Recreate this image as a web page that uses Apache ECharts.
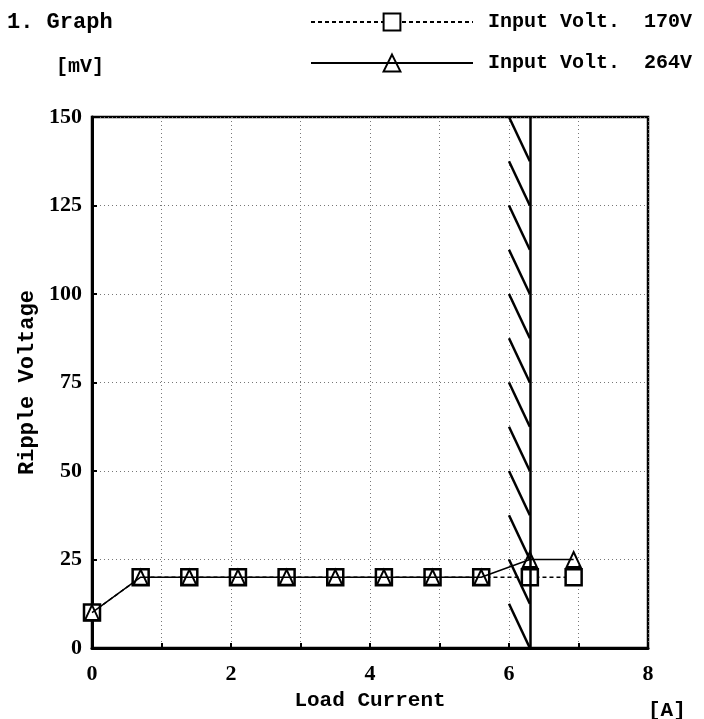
<!DOCTYPE html>
<html>
<head>
<meta charset="utf-8">
<script src="https://cdn.jsdelivr.net/npm/echarts@6/dist/echarts.min.js"></script>
<style>html,body{margin:0;padding:0;background:#fff;}#c{width:704px;height:719px;}</style>
</head>
<body>
<div id="c"></div>
<script>
var loadCurrent = [0, 0.7, 1.4, 2.1, 2.8, 3.5, 4.2, 4.9, 5.6, 6.3, 6.93];
var ripple170 = [10, 20, 20, 20, 20, 20, 20, 20, 20, 20, 20];
var ripple264 = [10, 20, 20, 20, 20, 20, 20, 20, 20, 25, 25];
var ratedCurrent = 6.3;
var hatchStart = 6.0;
var hatchTops = [150, 137.5, 125, 112.5, 100, 87.5, 75, 62.5, 50, 37.5, 25, 12.5];
var hatchStep = 12.5;
var xTickLabels = ['0', '', '2', '', '4', '', '6', '', '8'];

var chart = echarts.init(document.getElementById('c'));
var serifB = 'Liberation Serif';
var mono = 'Liberation Mono';

function pairs(xs, ys) { return xs.map(function (x, i) { return [x, ys[i]]; }); }

chart.setOption({
  animation: false,
  backgroundColor: '#fff',
  grid: { left: 92, right: 56, top: 117, bottom: 71, show: true, borderColor: '#000', borderWidth: 2.5 },
  graphic: [
    { type: 'text', left: 7, top: 11, style: { text: '1. Graph', font: 'bold 22px ' + mono, fill: '#000' } },
    { type: 'text', left: 56, top: 57, style: { text: '[mV]', font: 'bold 20px ' + mono, fill: '#000' } },
    { type: 'text', left: 648, top: 700, style: { text: '[A]', font: 'bold 21px ' + mono, fill: '#000' } }
  ],
  legend: {
    left: 305, top: 7, orient: 'vertical', itemWidth: 162, itemHeight: 21, itemGap: 21,
    textStyle: { fontFamily: mono, fontWeight: 'bold', fontSize: 20, color: '#000', padding: [0, 0, 0, 10] },
    data: ['Input Volt.  170V', 'Input Volt.  264V']
  },
  xAxis: {
    type: 'value', min: 0, max: 8, interval: 1,
    name: 'Load Current', nameLocation: 'middle', nameGap: 41,
    nameTextStyle: { fontFamily: mono, fontSize: 21, fontWeight: 'bold', color: '#000' },
    axisLine: { lineStyle: { color: '#000', width: 3 } },
    axisTick: { inside: true, length: 5, lineStyle: { color: '#000', width: 2 } },
    axisLabel: { margin: 15, fontFamily: serifB, fontWeight: 'bold', fontSize: 22, color: '#000',
      formatter: function (v) { return xTickLabels[Math.round(v)]; } },
    splitLine: { show: true, lineStyle: { color: '#777', type: [1, 3], width: 1 } }
  },
  yAxis: {
    type: 'value', min: 0, max: 150, interval: 25,
    name: 'Ripple Voltage', nameLocation: 'middle', nameGap: 51, nameRotate: 90,
    nameTextStyle: { fontFamily: mono, fontSize: 22, fontWeight: 'bold', color: '#000' },
    axisLine: { lineStyle: { color: '#000', width: 3 } },
    axisTick: { inside: true, length: 5, lineStyle: { color: '#000', width: 2 } },
    axisLabel: { margin: 10, fontFamily: serifB, fontWeight: 'bold', fontSize: 22, color: '#000' },
    splitLine: { show: true, lineStyle: { color: '#777', type: [1, 3], width: 1 } }
  },
  series: [
    {
      type: 'custom', name: 'hatch', silent: true, z: 3,
      data: hatchTops,
      renderItem: function (params, api) {
        var top = api.value(0);
        var p1 = api.coord([hatchStart, top]);
        var p2 = api.coord([ratedCurrent, top - hatchStep]);
        return { type: 'line', shape: { x1: p1[0], y1: p1[1], x2: p2[0], y2: p2[1] },
          style: { stroke: '#000', lineWidth: 2.5 } };
      },
      encode: { y: 0 }
    },
    {
      type: 'line', name: 'rated', data: [], z: 3,
      markLine: { silent: true, symbol: 'none', label: { show: false },
        lineStyle: { color: '#000', type: 'solid', width: 2.5 },
        data: [{ xAxis: ratedCurrent }] }
    },
    {
      type: 'line', name: 'Input Volt.  170V', data: pairs(loadCurrent, ripple170), z: 4,
      symbol: 'rect', symbolSize: 16,
      lineStyle: { color: '#000', width: 1.5, type: [4, 3] },
      itemStyle: { color: '#fff', borderColor: '#000', borderWidth: 2.5 }
    },
    {
      type: 'line', name: 'Input Volt.  264V', data: pairs(loadCurrent, ripple264), z: 5,
      symbol: 'triangle', symbolSize: [14, 15],
      lineStyle: { color: '#000', width: 1.5, type: 'solid' },
      itemStyle: { color: 'rgba(255,255,255,0)', borderColor: '#000', borderWidth: 2 }
    }
  ]
});
</script>
</body>
</html>
